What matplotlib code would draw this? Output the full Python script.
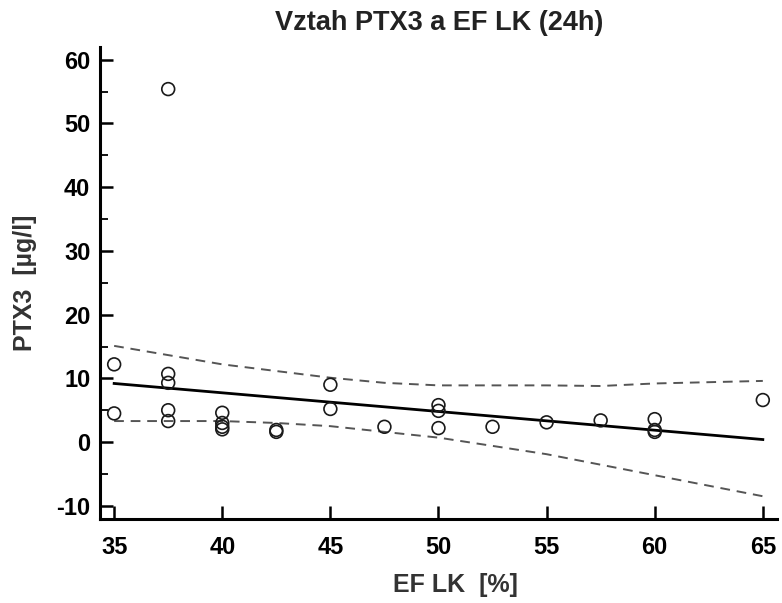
import matplotlib.pyplot as plt
from matplotlib.ticker import MultipleLocator

# measured values
ef = [35, 35, 37.5, 37.5, 37.5, 37.5, 37.5, 40, 40, 40, 40, 42.5, 42.5,
      45, 45, 47.5, 50, 50, 50, 52.5, 55, 57.5, 60, 60, 60, 65]
ptx3 = [12.2, 4.5, 55.4, 10.7, 9.3, 5.0, 3.3, 4.6, 3.0, 2.4, 2.0, 1.9, 1.6,
        9.0, 5.2, 2.4, 5.8, 4.9, 2.2, 2.4, 3.1, 3.4, 3.6, 1.9, 1.6, 6.6]

fit_x = [35, 65]
fit_y = [9.2, 0.4]

upper_x = [35, 40, 45, 47.5, 50, 55, 57.5, 60, 65]
upper_y = [15.1, 12.2, 10.1, 9.3, 8.9, 8.9, 8.8, 9.2, 9.6]
lower_x = [35, 40, 42.5, 45, 47.5, 50, 55, 60, 65]
lower_y = [3.3, 3.3, 3.0, 2.5, 1.6, 0.7, -1.9, -5.2, -8.5]

plt.rcParams["font.family"] = ["Liberation Sans", "DejaVu Sans"]
plt.rcParams["font.weight"] = "bold"
plt.rcParams["axes.unicode_minus"] = False

fig = plt.figure(figsize=(7.82, 6.03), dpi=100)
ax = fig.add_axes([0.128, 0.139, 0.866, 0.783])

ax.plot(upper_x, upper_y, ls=(0, (5, 3.5)), color="#555555", lw=1.4)
ax.plot(lower_x, lower_y, ls=(0, (5, 3.5)), color="#555555", lw=1.4)
ax.plot(fit_x, fit_y, color="black", lw=2.0)
ax.scatter(ef, ptx3, s=85, facecolors="none", edgecolors="#1a1a1a", linewidths=1.2, zorder=3)

ax.set_xlim(34.35, 65.67)
ax.set_ylim(-12.1, 62.0)
ax.set_xticks(range(35, 70, 5))
ax.set_yticks(range(-10, 70, 10))
ax.yaxis.set_minor_locator(MultipleLocator(5))

for side in ["top", "right"]:
    ax.spines[side].set_visible(False)
for side in ["left", "bottom"]:
    ax.spines[side].set_linewidth(2.2)

ax.tick_params(which="major", direction="in", length=9.5, width=1.8, labelsize=17)
ax.tick_params(which="minor", direction="in", length=5.5, width=1.3)
ax.tick_params(axis="x", pad=12)
ax.tick_params(axis="y", pad=7)

ax.set_title("Vztah PTX3 a EF LK (24h)", fontsize=19.5, fontweight="bold", color="#222222", pad=12)
ax.set_xlabel("EF LK  [%]", fontsize=18, fontweight="bold", color="#333333")
ax.xaxis.set_label_coords(0.524, -0.113)
ax.set_ylabel("PTX3  [µg/l]", fontsize=18, fontweight="bold", color="#333333", labelpad=14)

fig.savefig("out.png", dpi=100)
